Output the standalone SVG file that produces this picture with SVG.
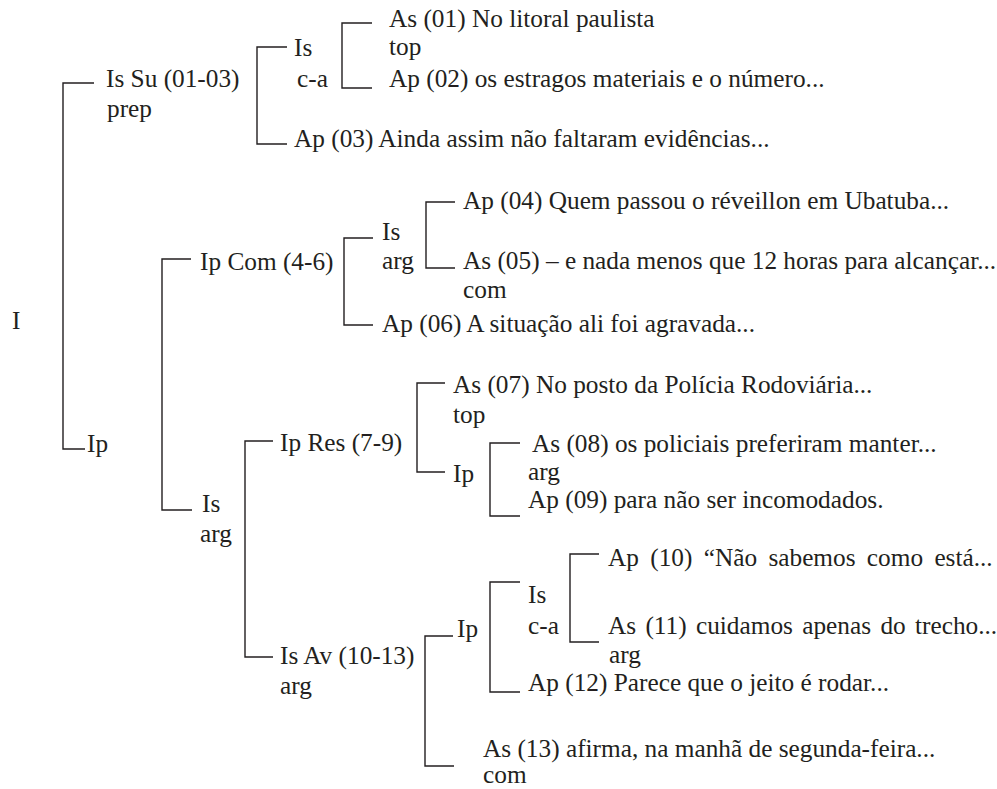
<svg xmlns="http://www.w3.org/2000/svg" width="997" height="789" viewBox="0 0 997 789">
<style>
text { font-family: "Liberation Serif", "Times New Roman", serif; font-size: 25.3px; fill: #231f20; }
.c path { fill: none; stroke: #231f20; stroke-width: 1.4; }
</style>
<rect width="997" height="789" fill="#ffffff"/>
<g class="c" id="connectors">
  <path d="M94,83 H63 V449 H85"/>
  <path d="M287,47 H257 V144 H287"/>
  <path d="M372,23 H342 V88 H372"/>
  <path d="M191,259 H162 V510 H192"/>
  <path d="M373,238 H344 V325 H373"/>
  <path d="M455,202 H426 V268 H455"/>
  <path d="M273,441 H245 V657 H273"/>
  <path d="M445,383 H417 V472 H445"/>
  <path d="M520,443 H490 V516 H520"/>
  <path d="M453,636 H425 V766 H454"/>
  <path d="M520,582 H490 V692 H520"/>
  <path d="M599,554 H570 V642 H599"/>
</g>
<g id="n-root"><text x="12" y="329">I</text></g>
<g id="n-IsSu"><text x="106" y="87">Is Su (01-03)</text><text x="107" y="117">prep</text></g>
<g id="n-Is-ca-1"><text x="294" y="56">Is</text><text x="297" y="87">c-a</text></g>
<g id="n-As01"><text x="389" y="27">As (01) No litoral paulista</text><text x="389" y="55">top</text></g>
<g id="n-Ap02"><text x="389" y="87">Ap (02) os estragos materiais e o número...</text></g>
<g id="n-Ap03"><text x="294" y="147">Ap (03) Ainda assim não faltaram evidências...</text></g>
<g id="n-Ip-1"><text x="87" y="452">Ip</text></g>
<g id="n-IpCom"><text x="200" y="270">Ip Com (4-6)</text></g>
<g id="n-Is-arg-1"><text x="382" y="240">Is</text><text x="382" y="269">arg</text></g>
<g id="n-Ap04"><text x="463" y="209">Ap (04) Quem passou o réveillon em Ubatuba...</text></g>
<g id="n-As05"><text x="463" y="269">As (05) – e nada menos que 12 horas para alcançar...</text><text x="463" y="298">com</text></g>
<g id="n-Ap06"><text x="382" y="332">Ap (06) A situação ali foi agravada...</text></g>
<g id="n-Is-arg-2"><text x="202" y="512">Is</text><text x="200" y="542">arg</text></g>
<g id="n-IpRes"><text x="280" y="451">Ip Res (7-9)</text></g>
<g id="n-As07"><text x="453" y="393">As (07) No posto da Polícia Rodoviária...</text><text x="453" y="423">top</text></g>
<g id="n-Ip-2"><text x="453" y="482">Ip</text></g>
<g id="n-As08"><text x="532" y="452">As (08) os policiais preferiram manter...</text><text x="528" y="480">arg</text></g>
<g id="n-Ap09"><text x="528" y="508">Ap (09) para não ser incomodados.</text></g>
<g id="n-IsAv"><text x="280" y="664">Is Av (10-13)</text><text x="280" y="694">arg</text></g>
<g id="n-Ip-3"><text x="457" y="637">Ip</text></g>
<g id="n-Is-ca-2"><text x="528" y="603">Is</text><text x="528" y="634">c-a</text></g>
<g id="n-Ap10"><text x="608" y="566" word-spacing="5">Ap (10) “Não sabemos como está...</text></g>
<g id="n-As11"><text x="608" y="634" word-spacing="3">As (11) cuidamos apenas do trecho...</text><text x="609" y="663">arg</text></g>
<g id="n-Ap12"><text x="528" y="691">Ap (12) Parece que o jeito é rodar...</text></g>
<g id="n-As13"><text x="483" y="757">As (13) afirma, na manhã de segunda-feira...</text><text x="483" y="783">com</text></g>
</svg>
